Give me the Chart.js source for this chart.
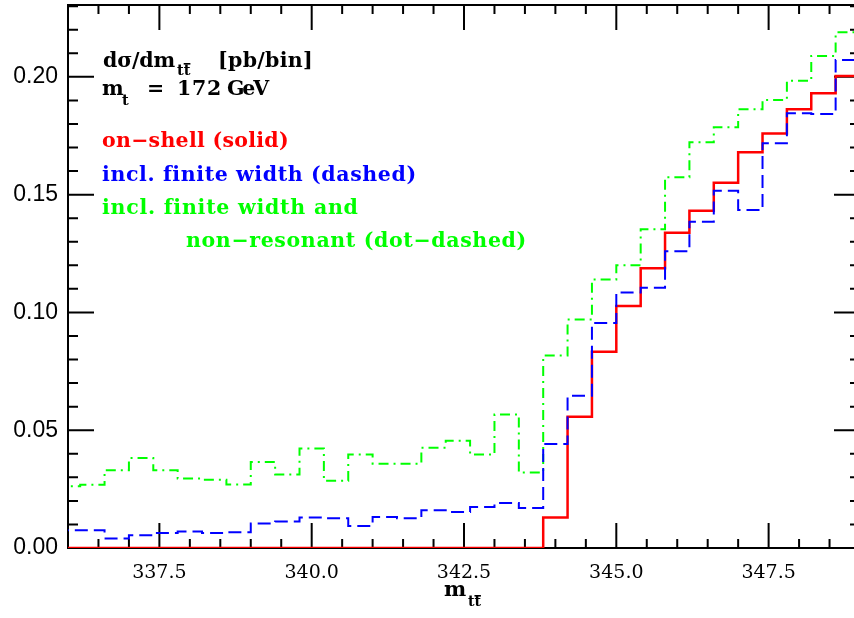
<!DOCTYPE html>
<html>
<head>
<meta charset="utf-8">
<script src="https://cdn.jsdelivr.net/npm/chart.js@4.4.1/dist/chart.umd.min.js"></script>
<style>
  html, body { margin: 0; padding: 0; background: #fff; overflow: hidden; }
  canvas { display: block; }
</style>
</head>
<body>
<canvas id="chart" width="862" height="618"></canvas>
<script>
// m_tt bin edges (GeV), 0.4 GeV bins
const binEdges = [335.8, 336.2, 336.6, 337.0, 337.4, 337.8, 338.2, 338.6, 339.0, 339.4,
  339.8, 340.2, 340.6, 341.0, 341.4, 341.8, 342.2, 342.6, 343.0, 343.4,
  343.8, 344.2, 344.6, 345.0, 345.4, 345.8, 346.2, 346.6, 347.0, 347.4,
  347.8, 348.2, 348.6, 349.0];

// dsigma/dm_tt [pb/bin], one value per bin
const onShell = [0, 0, 0, 0, 0, 0, 0, 0, 0, 0,
  0, 0, 0, 0, 0, 0, 0, 0, 0, 0,
  0.0129, 0.0557, 0.0833, 0.1027, 0.1188, 0.1338, 0.1432, 0.1550, 0.1680, 0.1759,
  0.1862, 0.1930, 0.2004];
const finiteWidth = [0.0075, 0.0075, 0.0040, 0.0054, 0.0064, 0.0070, 0.0064, 0.0067, 0.0104, 0.0112,
  0.0129, 0.0126, 0.0093, 0.0132, 0.0126, 0.0160, 0.0153, 0.0174, 0.0191, 0.0170,
  0.0441, 0.0646, 0.0955, 0.1085, 0.1105, 0.1260, 0.1385, 0.1517, 0.1435, 0.1718,
  0.1845, 0.1842, 0.2072];
const nonResonant = [0.0262, 0.0268, 0.0330, 0.0382, 0.0330, 0.0295, 0.0290, 0.0270, 0.0365, 0.0312,
  0.0422, 0.0285, 0.0397, 0.0358, 0.0358, 0.0426, 0.0455, 0.0397, 0.0567, 0.0320,
  0.0817, 0.0970, 0.1140, 0.1200, 0.1353, 0.1574, 0.1722, 0.1786, 0.1862, 0.1902,
  0.1983, 0.2089, 0.2189];

const xTickLabels = [337.5, 340.0, 342.5, 345.0, 347.5];
const yTickLabels = [0.00, 0.05, 0.10, 0.15, 0.20];

// per-bin values -> step points (left edge of each bin + closing right edge)
function histPoints(values) {
  const pts = values.map((v, i) => ({ x: binEdges[i], y: v }));
  pts.push({ x: binEdges[values.length], y: values[values.length - 1] });
  return pts;
}

// box frame with inward ticks on all four sides
const frameTicks = {
  id: 'frameTicks',
  beforeDatasetsDraw(chart) {
    const { ctx, chartArea: a, scales: { x, y } } = chart;
    ctx.save();
    ctx.strokeStyle = '#000';
    ctx.lineWidth = 2;
    ctx.strokeRect(a.left, a.top, a.right - a.left, a.bottom - a.top);
    ctx.beginPath();
    for (let i = 0; i <= 26; i++) {
      const v = 336 + i * 0.5;
      const px = x.getPixelForValue(v);
      const len = xTickLabels.some(t => Math.abs(t - v) < 1e-6) ? 25 : 9;
      ctx.moveTo(px, a.bottom); ctx.lineTo(px, a.bottom - len);
      ctx.moveTo(px, a.top); ctx.lineTo(px, a.top + len);
    }
    for (let i = 0; i <= 23; i++) {
      const py = y.getPixelForValue(i / 100);
      const len = i % 5 === 0 ? 26 : 10;
      ctx.moveTo(a.left, py); ctx.lineTo(a.left + len, py);
      ctx.moveTo(a.right, py); ctx.lineTo(a.right - len, py);
    }
    ctx.stroke();
    ctx.restore();
  }
};

// draw text stretched/squeezed (via letter spacing) to a given width
function fitText(ctx, text, x, y, width) {
  ctx.letterSpacing = '0px';
  const w = ctx.measureText(text).width;
  ctx.letterSpacing = ((width - w) / text.length).toFixed(2) + 'px';
  ctx.fillText(text, x, y);
  ctx.letterSpacing = '0px';
}

// "tt" with a bar over the second t
function ttbar(ctx, x, y, font, barLift) {
  ctx.font = font;
  ctx.fillText('tt', x, y);
  const w = ctx.measureText('t').width;
  ctx.fillRect(x + w, y - barLift, w, 1.6);
}

const annotations = {
  id: 'annotations',
  afterDraw(chart) {
    const ctx = chart.ctx;
    const serif = 'bold 20.5px "DejaVu Serif"';
    const sub = 'bold 14.5px "DejaVu Serif"';
    ctx.save();
    ctx.textAlign = 'left';
    ctx.textBaseline = 'alphabetic';
    ctx.fillStyle = '#000';

    ctx.font = serif;
    fitText(ctx, 'dσ/dm', 103, 67, 72);
    ttbar(ctx, 177, 75, sub, 12);
    ctx.font = serif;
    fitText(ctx, '[pb/bin]', 218, 67, 95);

    ctx.fillText('m', 102, 95);
    ctx.font = sub;
    ctx.fillText('t', 122, 105);
    ctx.font = serif;
    ctx.fillText('=', 147, 95);
    fitText(ctx, '172', 177, 95, 45);
    fitText(ctx, 'GeV', 227, 95, 40);

    ctx.fillStyle = '#ff0000';
    fitText(ctx, 'on\u2212shell (solid)', 102, 147, 187);
    ctx.fillStyle = '#0000ff';
    fitText(ctx, 'incl. finite width (dashed)', 102, 181, 313);
    ctx.fillStyle = '#00ff00';
    fitText(ctx, 'incl. finite width and', 102, 214, 255);
    fitText(ctx, 'non\u2212resonant (dot\u2212dashed)', 186, 247, 341);

    // x axis title
    ctx.fillStyle = '#000';
    ctx.font = 'bold 21px "DejaVu Serif"';
    ctx.fillText('m', 444, 596);
    ttbar(ctx, 468, 606, 'bold 14px "DejaVu Serif"', 11);
    ctx.restore();
  }
};

new Chart(document.getElementById('chart'), {
  type: 'line',
  data: {
    datasets: [
      { label: 'incl. finite width', data: histPoints(finiteWidth), borderColor: '#0000ff',
        borderWidth: 2, borderDash: [13, 6], stepped: 'before', fill: false, order: 0 },
      { label: 'on-shell', data: histPoints(onShell), borderColor: '#ff0000',
        borderWidth: 2.5, stepped: 'before', fill: false, order: 1 },
      { label: 'incl. finite width and non-resonant', data: histPoints(nonResonant), borderColor: '#00ff00',
        borderWidth: 2, borderDash: [10, 5, 2, 5], stepped: 'before', fill: false, order: 2 }
    ]
  },
  options: {
    responsive: false,
    animation: false,
    devicePixelRatio: 1,
    layout: { padding: { top: 5, right: 2, left: 0, bottom: 0 } },
    elements: { point: { radius: 0 } },
    plugins: { legend: { display: false }, tooltip: { enabled: false } },
    scales: {
      x: {
        type: 'linear', min: 336, max: 349,
        afterBuildTicks: s => { s.ticks = xTickLabels.map(v => ({ value: v })); },
        afterFit: s => { s.height = 70; s.paddingLeft = 0; s.paddingRight = 0; },
        grid: { display: false, drawTicks: false },
        border: { display: false },
        ticks: { padding: 14, color: '#000', font: { family: 'DejaVu Serif', size: 19 },
          callback: v => v.toFixed(1) }
      },
      y: {
        type: 'linear', min: 0, max: 0.2305,
        afterBuildTicks: s => { s.ticks = yTickLabels.map(v => ({ value: v })); },
        afterFit: s => { s.width = 68; s.paddingTop = 0; s.paddingBottom = 0; },
        grid: { display: false, drawTicks: false },
        border: { display: false },
        ticks: { padding: 10, color: '#000', font: { family: 'Liberation Sans', size: 23 },
          callback: v => v.toFixed(2) }
      }
    }
  },
  plugins: [frameTicks, annotations]
});
</script>
</body>
</html>
